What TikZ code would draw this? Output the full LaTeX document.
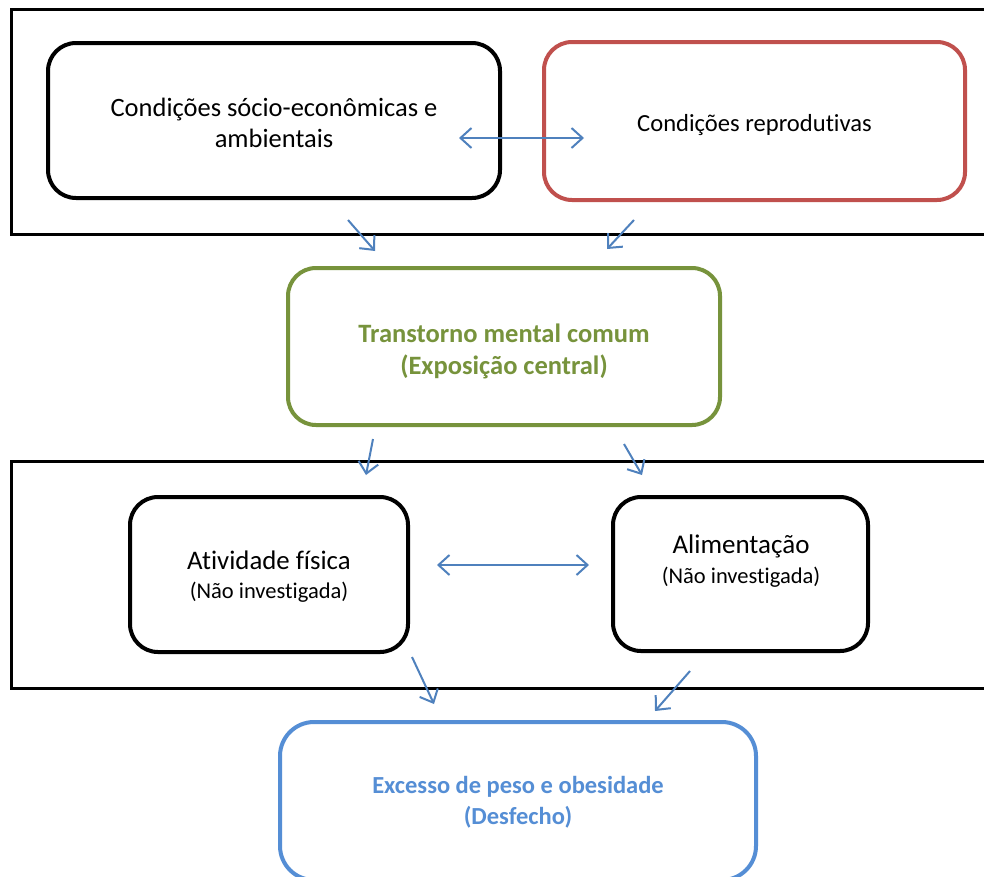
\documentclass[tikz,border=0pt]{standalone}
\usepackage{fontspec}
\setmainfont{Carlito}[Ligatures={NoCommon}]
\usetikzlibrary{arrows.meta}
\definecolor{cred}{RGB}{192,80,77}
\definecolor{cgreen}{RGB}{119,147,60}
\definecolor{cblue}{RGB}{85,142,213}
\definecolor{carrow}{RGB}{79,129,189}
\begin{document}
\begin{tikzpicture}[x=1pt,y=-1pt,
  box/.style={draw, rounded corners=28pt, line width=4pt, inner sep=0pt, align=center},
  txt/.style={align=center, inner sep=0pt},
  frame/.style={draw, line width=3pt},
  conn/.style={draw=carrow, line width=2pt, -{Straight Barb[length=11pt,width=20pt]}},
  dconn/.style={draw=carrow, line width=2pt, {Straight Barb[length=11pt,width=20pt]}-{Straight Barb[length=11pt,width=20pt]}},
  big/.style={font=\fontsize{26.8}{31}\selectfont},
  small/.style={font=\fontsize{22.5}{25}\selectfont}]
\useasboundingbox (0,0) rectangle (984,876);
\fill[white] (0,0) rectangle (984,876);
% frames
\draw[frame] (11,9) rectangle (1000,234);
\draw[frame] (11,461) rectangle (1000,688);
% top boxes
\node[box, minimum width=452pt, minimum height=155pt] (soc) at (274,120.5) {};
\node[txt, font=\fontsize{26.5}{31}\selectfont] (soct) at (274,123)
  {Condições sócio-econômicas e\\ambientais};
\node[box, draw=cred, minimum width=421pt, minimum height=158pt] (rep) at (754.5,121) {};
\node[txt, font=\fontsize{24.6}{28}\selectfont] (rept) at (754.5,125) {Condições reprodutivas};
% central
\node[box, draw=cgreen, minimum width=432pt, minimum height=157pt] (tmc) at (504,346.5) {};
\node[txt, text=cgreen, font=\bfseries\fontsize{26.5}{32}\selectfont] (tmct) at (504,351)
  {Transtorno mental comum\\(Exposição central)};
% middle boxes
\node[box, minimum width=278pt, minimum height=155pt] (ativ) at (269,574.5) {};
\node[big] (ativt) at (269,560) {Atividade física};
\node[small] (ativn) at (269,592) {(Não investigada)};
\node[box, minimum width=255pt, minimum height=154pt] (alim) at (740.5,574) {};
\node[font=\fontsize{27}{30}\selectfont] (alimt) at (741,546) {Alimentação};
\node[small] (alimn) at (741,577) {(Não investigada)};
% outcome
\node[box, draw=cblue, rounded corners=34pt, minimum width=476pt, minimum height=158pt] (desf) at (518,801) {};
\node[txt, text=cblue, font=\bfseries\fontsize{24.5}{31}\selectfont] (desft) at (518,802)
  {Excesso de peso e obesidade\\(Desfecho)};
% connector coordinates
\coordinate (a1s) at (348,220); \coordinate (a1e) at (375,251);
\coordinate (a2s) at (634,220); \coordinate (a2e) at (607,249);
\coordinate (d1s) at (459,138); \coordinate (d1e) at (584,138);
\coordinate (b1s) at (373,439); \coordinate (b1e) at (366,475);
\coordinate (b2s) at (624,444); \coordinate (b2e) at (642,475);
\coordinate (d2s) at (437,565); \coordinate (d2e) at (589,565);
\coordinate (c1s) at (412,657); \coordinate (c1e) at (434,704);
\coordinate (c2s) at (690,671); \coordinate (c2e) at (655,711);
\draw[dconn] (d1s) -- (d1e);
\draw[dconn] (d2s) -- (d2e);
\draw[conn] (a1s) -- (a1e);
\draw[conn] (a2s) -- (a2e);
\draw[conn] (b1s) -- (b1e);
\draw[conn] (b2s) -- (b2e);
\draw[conn] (c1s) -- (c1e);
\draw[conn] (c2s) -- (c2e);
\end{tikzpicture}
\end{document}
